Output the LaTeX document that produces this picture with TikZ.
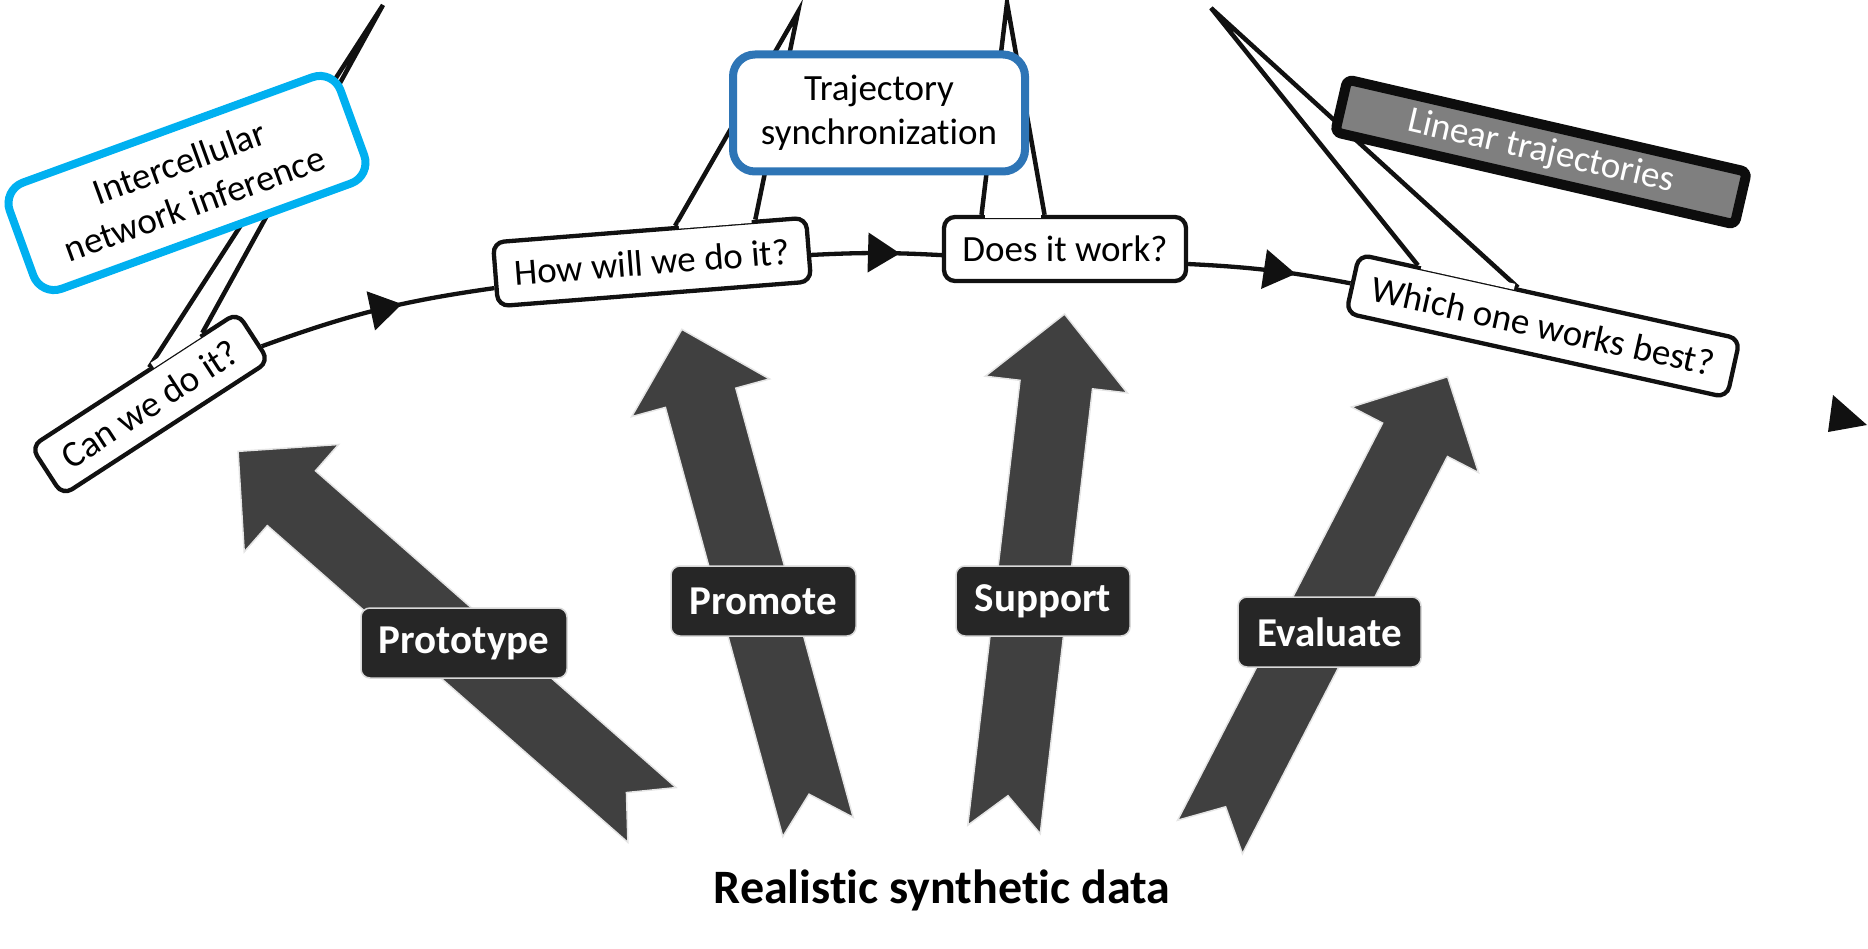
\documentclass[tikz,border=0pt]{standalone}
\usepackage{fontspec}
\setmainfont{Carlito}[Ligatures={NoCommon,NoContextual}]
\usetikzlibrary{calc,arrows.meta,decorations.markings}

\definecolor{cyanb}{HTML}{00B0F0}
\definecolor{blueb}{HTML}{2E75B6}
\definecolor{grayfill}{HTML}{7F7F7F}
\definecolor{darkline}{HTML}{0D0D0D}
\definecolor{arrowgray}{HTML}{404040}
\definecolor{labelgray}{HTML}{262626}
\definecolor{ink}{HTML}{111111}

\tikzset{
  callout/.style={draw=ink, fill=white, line width=4.3pt, rounded corners=11pt, inner sep=0pt,
    font=\fontsize{37}{44}\selectfont, text=black},
  tailline/.style={draw=ink, fill=white, line width=4.5pt, line join=miter},
  cover/.style={draw=white, line width=6pt},
  topic/.style={fill=white, line width=8pt, rounded corners=22pt, inner sep=0pt, align=center,
    font=\fontsize{37}{44}\selectfont, text=black},
  linbox/.style={fill=grayfill, draw=darkline, line width=10pt, rounded corners=6pt, inner sep=0pt,
    text=white, font=\fontsize{37}{44}\selectfont},
  ribbon/.style={fill=arrowgray, draw=white!90!black, line width=1.5pt, line join=miter},
  tag/.style={fill=labelgray, draw=white!85!black, line width=1.5pt, rounded corners=9pt, inner sep=0pt,
    minimum height=70pt, text=white, font=\bfseries\fontsize{41}{49}\selectfont},
  flow/.style={draw=ink, line width=4.3pt},
  midarrow/.style={postaction={decorate}, decoration={markings,
    mark=at position #1 with {\arrow{Triangle[length=32pt,width=39pt]}}}},
}

\newcommand{\bigribbon}[3]{%
  \begin{scope}[shift={#1}, rotate=#2]
    \filldraw[ribbon] (0,36.5) -- ({#3-71},36.5) -- ({#3-71},71.5) -- (#3,0)
      -- ({#3-71},-71.5) -- ({#3-71},-36.5) -- (0,-36.5) -- (34,0) -- cycle;
  \end{scope}}

\begin{document}
\begin{tikzpicture}[x=1pt, y=-1pt]
\useasboundingbox (0,0) rectangle (1868,949);

% big ribbon arrows
\bigribbon{(652,815)}{138.7}{551}
\bigribbon{(818,827)}{105.3}{516}
\bigribbon{(1004,829.5)}{83.3}{519}
\bigribbon{(1210,837)}{62.7}{518}

% labels on the arrows
\node[tag, minimum width=206pt] (proto) at (464,643) {Prototype};
\node[tag, minimum width=185pt] (promote) at (763.5,601) {Promote};
\node[tag, minimum width=174pt] (support) at (1043,601) {Support};
\node[tag, minimum width=183pt] (evaluate) at (1329.5,632) {Evaluate};

% title
\node[font=\bfseries\fontsize{48}{58}\selectfont, anchor=base] (title) at (942,903) {Realistic synthetic data};

% callouts
\node[callout, rotate=33, minimum width=246pt, minimum height=58pt] (can) at (150,404) {Can we do it?};
\node[callout, rotate=4.5, minimum width=314pt, minimum height=64pt] (how) at (652,262) {How will we do it?};
\node[callout, minimum width=242pt, minimum height=64pt] (does) at (1065,249) {Does it work?};
\node[callout, rotate=-12.5, minimum width=390pt, minimum height=60pt] (which) at (1543,326) {Which one works best?};

% tails
\coordinate (cantip) at (383,5);
\coordinate (howtip) at (798,12);
\coordinate (doestip) at (1007,3);
\coordinate (whichtip) at (1211,8);

\filldraw[tailline] ($(can.north west)!0.577!(can.north east)$) -- (cantip) -- ($(can.north west)!0.83!(can.north east)$);
\draw[cover] ($(can.north west)!0.592!(can.north east)$) -- ($(can.north west)!0.815!(can.north east)$);

\filldraw[tailline] ($(how.north west)!0.581!(how.north east)$) -- (howtip) -- ($(how.north west)!0.834!(how.north east)$);
\draw[cover] ($(how.north west)!0.593!(how.north east)$) -- ($(how.north west)!0.822!(how.north east)$);

\filldraw[tailline] ($(does.north west)!0.161!(does.north east)$) -- (doestip) -- ($(does.north west)!0.417!(does.north east)$);
\draw[cover] ($(does.north west)!0.176!(does.north east)$) -- ($(does.north west)!0.402!(does.north east)$);

\filldraw[tailline] ($(which.north west)!0.157!(which.north east)$) -- (whichtip) -- ($(which.north west)!0.417!(which.north east)$);
\draw[cover] ($(which.north west)!0.166!(which.north east)$) -- ($(which.north west)!0.408!(which.north east)$);

% connectors
\draw[flow, midarrow=0.61] ($(can.north east)!0.7!(can.south east)$) to[bend left=6] ($(how.north west)!0.7!(how.south west)$);
\draw[flow, midarrow=0.68] ($(how.north east)!0.58!(how.south east)$) to[bend left=3] ($(does.north west)!0.59!(does.south west)$);
\draw[flow, midarrow=0.66] ($(does.north east)!0.72!(does.south east)$) to[bend left=4] (which.west);

% topic boxes
\node[topic, draw=cyanb, rotate=20, minimum width=352pt, minimum height=113pt] (inter) at (187,183) {Intercellular\\network inference};
\node[topic, draw=blueb, minimum width=292pt, minimum height=117pt] (traj) at (879,113) {Trajectory\\synchronization};
\node[linbox, rotate=-13, minimum width=410pt, minimum height=54pt] (lin) at (1541,152) {Linear trajectories};

% stray arrowhead at the right
\fill[ink] (1833,395) -- (1867,425) -- (1828,432) -- cycle;
\end{tikzpicture}
\end{document}
